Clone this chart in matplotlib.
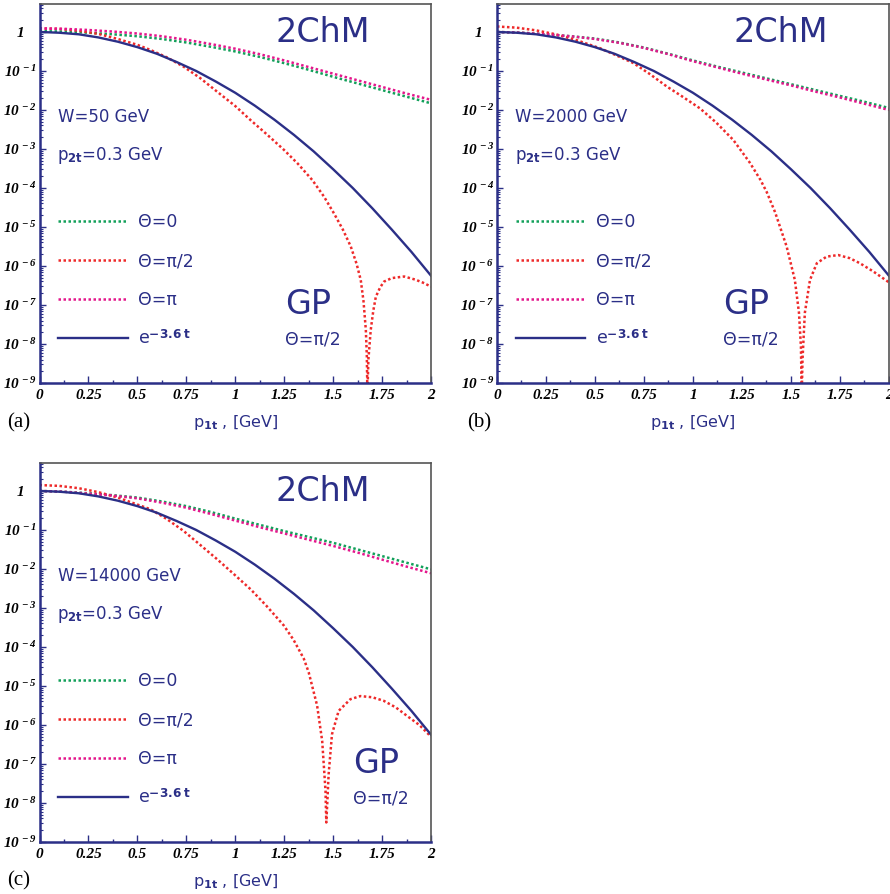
import matplotlib
matplotlib.use("Agg")
import matplotlib.pyplot as plt
import numpy as np
from matplotlib.ticker import LogLocator, NullFormatter, MultipleLocator

plt.rcParams['font.family'] = ['DejaVu Sans']
plt.rcParams['mathtext.fontset'] = 'custom'
# plain math digits -> serif bold italic (tick labels), \mathbf -> sans bold
plt.rcParams['mathtext.rm'] = 'Liberation Serif:italic:bold'
plt.rcParams['mathtext.it'] = 'Liberation Serif:italic:bold'
plt.rcParams['mathtext.bf'] = 'DejaVu Sans:bold'
plt.rcParams['mathtext.sf'] = 'DejaVu Sans'

# values are log10 of the curves
p_grid = [0, 0.125, 0.25, 0.375, 0.5, 0.625, 0.75, 0.875, 1.0,
          1.125, 1.25, 1.375, 1.5, 1.625, 1.75, 1.875, 2.0]

# e^{-3.6 t}, same in every panel
p_exp = [0, 0.1, 0.2, 0.3, 0.4, 0.5, 0.6, 0.7, 0.8, 0.9, 1.0,
         1.1, 1.2, 1.3, 1.4, 1.5, 1.6, 1.7, 1.8, 1.9, 2.0]
L_exp = [0, -0.02, -0.06, -0.14, -0.25, -0.39, -0.56, -0.77, -1.0, -1.27, -1.56,
         -1.89, -2.25, -2.64, -3.06, -3.52, -4.0, -4.52, -5.07, -5.64, -6.25]

# (a) W=50 GeV
green_a = [0.02, 0.01, -0.02, -0.06, -0.11, -0.18, -0.27, -0.38, -0.50,
           -0.64, -0.80, -0.97, -1.15, -1.32, -1.49, -1.66, -1.83]
magenta_a = [0.09, 0.08, 0.05, 0.01, -0.04, -0.11, -0.20, -0.31, -0.43,
             -0.57, -0.73, -0.90, -1.07, -1.24, -1.41, -1.58, -1.74]
red_p_a = [0, 0.1, 0.2, 0.3, 0.4, 0.5, 0.566, 0.65, 0.736, 0.82, 0.907, 1.0,
           1.078, 1.16, 1.248, 1.32, 1.394, 1.453, 1.504, 1.55, 1.59, 1.62,
           1.641, 1.655, 1.667, 1.672, 1.675, 1.68, 1.692, 1.705, 1.718, 1.74,
           1.76, 1.80, 1.863, 1.92, 1.96, 2.0]
red_L_a = [0.09, 0.08, 0.03, -0.05, -0.18, -0.33, -0.46, -0.65, -0.89, -1.18,
           -1.53, -1.9, -2.26, -2.62, -3.02, -3.38, -3.8, -4.22, -4.65, -5.07,
           -5.5, -5.95, -6.36, -6.9, -7.64, -8.3, -9.3, -8.4, -7.64, -7.15,
           -6.79, -6.55, -6.40, -6.31, -6.27, -6.35, -6.43, -6.53]

# (b) W=2000 GeV
green_b = [0.0, -0.02, -0.06, -0.11, -0.17, -0.27, -0.40, -0.56, -0.73,
           -0.89, -1.04, -1.19, -1.34, -1.49, -1.64, -1.79, -1.95]
magenta_b = [0.0, -0.02, -0.06, -0.11, -0.18, -0.28, -0.41, -0.57, -0.75,
             -0.91, -1.07, -1.22, -1.37, -1.53, -1.68, -1.84, -2.00]
red_p_b = [0, 0.1, 0.2, 0.3, 0.4, 0.527, 0.6, 0.697, 0.78, 0.867, 0.95, 1.036,
           1.12, 1.206, 1.29, 1.343, 1.376, 1.419, 1.478, 1.52, 1.541, 1.551,
           1.555, 1.559, 1.571, 1.597, 1.632, 1.682, 1.741, 1.80, 1.852, 1.92, 2.0]
red_L_b = [0.14, 0.11, 0.04, -0.06, -0.2, -0.42, -0.58, -0.8, -1.08, -1.40,
           -1.67, -1.96, -2.33, -2.77, -3.35, -3.78, -4.1, -4.62, -5.5, -6.36,
           -7.2, -8.07, -9.3, -8.4, -7.2, -6.36, -5.93, -5.76, -5.72, -5.80,
           -5.93, -6.14, -6.42]

# (c) W=14000 GeV
green_c = [0.0, -0.02, -0.06, -0.11, -0.17, -0.27, -0.39, -0.54, -0.71,
           -0.87, -1.03, -1.18, -1.33, -1.50, -1.67, -1.84, -2.01]
magenta_c = [0.0, -0.02, -0.07, -0.12, -0.19, -0.30, -0.43, -0.59, -0.76,
             -0.93, -1.09, -1.25, -1.41, -1.58, -1.76, -1.94, -2.11]
red_p_c = [0, 0.1, 0.2, 0.3, 0.4, 0.567, 0.65, 0.737, 0.82, 0.907, 0.99, 1.078,
           1.16, 1.248, 1.298, 1.35, 1.375, 1.418, 1.444, 1.461, 1.465, 1.470,
           1.477, 1.494, 1.528, 1.588, 1.639, 1.70, 1.758, 1.82, 1.878, 1.94, 2.0]
red_L_c = [0.15, 0.13, 0.07, -0.03, -0.17, -0.47, -0.72, -1.03, -1.38, -1.75,
           -2.12, -2.52, -2.95, -3.45, -3.82, -4.3, -4.65, -5.5, -6.41, -7.69,
           -8.5, -8.0, -7.26, -6.24, -5.64, -5.34, -5.26, -5.29, -5.38, -5.55,
           -5.77, -6.0, -6.3]

energies = ['W=50 GeV', 'W=2000 GeV', 'W=14000 GeV']
panel_tags = ['(a)', '(b)', '(c)']
x_ticks = [0, 0.25, 0.5, 0.75, 1, 1.25, 1.5, 1.75, 2]
x_labels = ['0', '0.25', '0.5', '0.75', '1', '1.25', '1.5', '1.75', '2']
y_exps = list(range(-9, 1))

navy = '#2b2f87'
c_green = '#12a05a'
c_red = '#ee2a2a'
c_mag = '#e4168c'
dots = (0, (1, 1))

fig = plt.figure(figsize=(8.9, 8.94), dpi=100)
positions = [[0.0444, 0.5716, 0.4399, 0.4239],
             [0.5584, 0.5716, 0.4404, 0.4239],
             [0.0444, 0.0582, 0.4399, 0.4239]]
gp_x = [0.627, 0.577, 0.80]
tag_xy = [(0.008, 0.527), (0.525, 0.527), (0.008, 0.0145)]

panels = [(green_a, magenta_a, red_p_a, red_L_a),
          (green_b, magenta_b, red_p_b, red_L_b),
          (green_c, magenta_c, red_p_c, red_L_c)]

for i, (g, m, rp, rl) in enumerate(panels):
    ax = fig.add_axes(positions[i])
    l1, = ax.plot(p_grid, 10**np.array(g), color=c_green, lw=1.8, ls=dots)
    l2, = ax.plot(rp, 10**np.array(rl), color=c_red, lw=1.8, ls=dots)
    l3, = ax.plot(p_grid, 10**np.array(m), color=c_mag, lw=1.8, ls=dots)
    l4, = ax.plot(p_exp, 10**np.array(L_exp), color=navy, lw=1.7)

    ax.set_yscale('log')
    ax.set_xlim(0, 2)
    ax.set_ylim(1e-9, 5.2)

    ylabels = []
    for k in y_exps:
        if k == 0:
            ylabels.append('1   ')
        else:
            ylabels.append(r'$10^{\,%d}$' % k)
    ax.set_yticks([10.0**k for k in y_exps], ylabels,
                  fontfamily='Liberation Serif', fontstyle='italic',
                  fontweight='bold', fontsize=11)
    ax.yaxis.set_minor_locator(LogLocator(base=10, subs=np.arange(2, 10), numticks=20))
    ax.yaxis.set_minor_formatter(NullFormatter())
    ax.set_xticks(x_ticks, x_labels, fontfamily='Liberation Serif',
                  fontstyle='italic', fontweight='bold', fontsize=11)
    ax.xaxis.set_minor_locator(MultipleLocator(0.125))
    ax.tick_params(axis='x', which='major', direction='in', length=5, width=1,
                   color=navy, pad=4, top=False)
    ax.tick_params(axis='x', which='minor', direction='in', length=2.5, width=1,
                   color=navy, top=False)
    ax.tick_params(axis='y', which='major', direction='in', length=4, width=1,
                   color=navy, pad=2, right=False)
    ax.tick_params(axis='y', which='minor', direction='in', length=2, width=0.8,
                   color=navy, right=False)
    for s in ['left', 'bottom']:
        ax.spines[s].set_color(navy)
        ax.spines[s].set_linewidth(1.8)
    for s in ['top', 'right']:
        ax.spines[s].set_color('#555555')
        ax.spines[s].set_linewidth(1.2)

    ax.text(0.5, -0.105, r'p$_{\mathbf{1t}}$ , [GeV]', transform=ax.transAxes,
            ha='center', va='center', fontsize=11.5, color=navy)
    ax.text(0.724, 0.926, '2ChM', transform=ax.transAxes, ha='center',
            va='center', fontsize=24, color=navy)
    ax.text(0.047, 0.703, energies[i], transform=ax.transAxes, ha='left',
            va='center', fontsize=12, color=navy)
    ax.text(0.045, 0.60, r'p$_{\mathbf{2t}}$=0.3 GeV', transform=ax.transAxes,
            ha='left', va='center', fontsize=12, color=navy)
    ax.text(gp_x[i], 0.206, 'GP', transform=ax.transAxes, ha='left',
            va='center', fontsize=24, color=navy)
    ax.text(gp_x[i], 0.116, 'Θ=π/2', transform=ax.transAxes, ha='left',
            va='center', fontsize=12.5, color=navy)

    leg = ax.legend([l1, l2, l3, l4],
                    ['Θ=0', 'Θ=π/2', 'Θ=π', r'e$^{\mathbf{-3.6\ t}}$'],
                    loc='upper left', bbox_to_anchor=(0.048, 0.448),
                    frameon=False, borderpad=0, borderaxespad=0,
                    handlelength=4.0, handletextpad=0.6, labelspacing=1.2,
                    prop={'size': 12.5})
    for t in leg.get_texts():
        t.set_color(navy)

    fig.text(tag_xy[i][0], tag_xy[i][1], panel_tags[i], family='Liberation Serif',
             fontsize=15, ha='left', va='center')

fig.savefig('out.png', dpi=100)
